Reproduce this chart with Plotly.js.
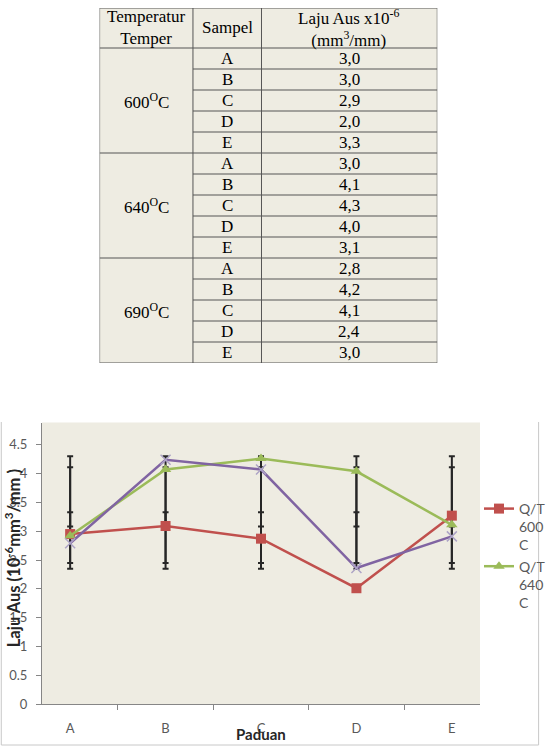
<!DOCTYPE html>
<html><head><meta charset="utf-8">
<script src="https://cdn.plot.ly/plotly-3.0.1.min.js"></script>
<style>html,body{margin:0;padding:0;background:#fff;}#chart{width:551px;height:746px;}</style>
</head><body><div id="chart"></div>
<script>
// ---------- chart data ----------
const categories = ['A', 'B', 'C', 'D', 'E'];
const qt600 = [2.95, 3.09, 2.87, 2.01, 3.27];
const qt640 = [2.92, 4.07, 4.26, 4.04, 3.11];
const qt690 = [2.79, 4.24, 4.07, 2.36, 2.91];
const seriesNames = ['Q/T<br>600<br>C', 'Q/T<br>640<br>C', 'Q/T<br>690<br>C'];
// standard-deviation error bars (Excel style: centred on each series mean)
const errMid = [2.84, 3.69, 3.28];
const errSd = [0.49, 0.61, 0.83];

// ---------- table data ----------
const tableHeader = ['Temperatur<br>Temper', 'Sampel', 'Laju Aus x10<sup>-6</sup><br>(mm<sup>3</sup>/mm)'];
const tableTemps = ['600<sup>O</sup>C', '640<sup>O</sup>C', '690<sup>O</sup>C'];
const tableSamples = ['A', 'B', 'C', 'D', 'E'];
const tableRates = [
  ['3,0', '3,0', '2,9', '2,0', '3,3'],
  ['3,0', '4,1', '4,3', '4,0', '3,1'],
  ['2,8', '4,2', '4,1', '2,4', '3,0']
];

// ---------- styles ----------
const W = 551, H = 746;
const M = {l: 42, r: 68, t: 0, b: 42};
const plotH = H - M.t - M.b, plotW = W - M.l - M.r;
const px2x = p => (p - M.l) / plotW;
const px2y = p => (H - M.b - p) / plotH;
const colors = ['#C0504D', '#9BBB59', '#8064A2'];
const sansFont = 'Lato, "Open Sans", sans-serif';
const serifFont = '"Liberation Serif", "DejaVu Serif", serif';
const tableFontSize = 17;

// table geometry (in table-axis units = px)
const colEdges = [0, 94, 163, 340];
const headerH = 40, rowH = 21;
const nRows = tableTemps.length * tableSamples.length;
const tableH = headerH + nRows * rowH;
const tableTop = 8, tableLeft = 100;

const traces = [];
// error bar traces
const valsAll = [qt600, qt640, qt690];
for (let i = 0; i < 3; i++) {
  traces.push({
    type: 'scatter', mode: 'markers', x: categories,
    y: categories.map(() => errMid[i]),
    marker: {size: 1, color: 'rgba(0,0,0,0)'},
    error_y: {type: 'constant', value: errSd[i], color: '#262626', thickness: 2, width: 3},
    showlegend: false, hoverinfo: 'skip', xaxis: 'x', yaxis: 'y'
  });
}
const symbols = ['square', 'triangle-up', 'x-thin-open'];
for (let i = 0; i < 3; i++) {
  traces.push({
    type: 'scatter', mode: 'lines+markers', name: seriesNames[i],
    x: categories, y: valsAll[i],
    line: {color: colors[i], width: 2.5},
    marker: i === 2
      ? {symbol: 'x-thin-open', size: 10, color: '#ADA4C6', line: {color: '#ADA4C6', width: 1.5}}
      : {symbol: symbols[i], size: 10, color: colors[i]},
    showlegend: i < 2, xaxis: 'x', yaxis: 'y'
  });
}

// ---------- table via shapes & annotations on a second axis pair ----------
const shapes = [];
const annotations = [];
const lineStyle = {color: '#555555', width: 1};
function hline(y, x0, x1) {
  shapes.push({type: 'line', xref: 'x2', yref: 'y2', x0: x0, x1: x1, y0: y, y1: y, line: lineStyle});
}
function vline(x, y0, y1) {
  shapes.push({type: 'line', xref: 'x2', yref: 'y2', x0: x, x1: x, y0: y0, y1: y1, line: lineStyle});
}
hline(0, colEdges[0], colEdges[3]);
hline(headerH, colEdges[0], colEdges[3]);
for (let r = 1; r <= nRows; r++) {
  const y = headerH + r * rowH;
  const groupEnd = r % tableSamples.length === 0;
  hline(y, groupEnd ? colEdges[0] : colEdges[1], colEdges[3]);
}
colEdges.forEach(x => vline(x, 0, tableH));
const tFont = {family: serifFont, size: tableFontSize, color: '#000'};
tableHeader.forEach((t, c) => {
  annotations.push({xref: 'x2', yref: 'y2', x: (colEdges[c] + colEdges[c + 1]) / 2, y: headerH / 2,
    text: t, showarrow: false, font: tFont, xanchor: 'center', yanchor: 'middle'});
});
tableTemps.forEach((t, g) => {
  const y0 = headerH + g * tableSamples.length * rowH;
  annotations.push({xref: 'x2', yref: 'y2', x: (colEdges[0] + colEdges[1]) / 2,
    y: y0 + tableSamples.length * rowH / 2, text: t, showarrow: false,
    font: tFont, xanchor: 'center', yanchor: 'middle'});
  tableSamples.forEach((s, k) => {
    const yc = y0 + (k + 0.5) * rowH;
    annotations.push({xref: 'x2', yref: 'y2', x: (colEdges[1] + colEdges[2]) / 2, y: yc, text: s,
      showarrow: false, font: tFont, xanchor: 'center', yanchor: 'middle'});
    annotations.push({xref: 'x2', yref: 'y2', x: (colEdges[2] + colEdges[3]) / 2, y: yc, text: tableRates[g][k],
      showarrow: false, font: tFont, xanchor: 'center', yanchor: 'middle'});
  });
});

// chart outer frame (left, bottom, right)
const frameTop = 422, frameBottom = 745, frameLeft = 1, frameRight = 542;
shapes.push({type: 'path', xref: 'paper', yref: 'paper', layer: 'below',
  path: `M ${px2x(frameLeft)} ${px2y(frameTop)} L ${px2x(frameLeft)} ${px2y(frameBottom)} L ${px2x(frameRight)} ${px2y(frameBottom)} L ${px2x(frameRight)} ${px2y(frameTop)}`,
  line: {color: '#C8C8C8', width: 1}});

// axis titles
annotations.push({xref: 'paper', yref: 'paper', x: px2x(13), y: px2y(558), textangle: -90,
  text: '<b>Laju Aus (10<sup>-6</sup>mm<sup>3</sup>/mm )</b>', showarrow: false,
  font: {family: sansFont, size: 16.5, color: '#262626'}, xanchor: 'center', yanchor: 'middle'});
annotations.push({xref: 'paper', yref: 'paper', x: 0.5, y: px2y(734),
  text: '<b>Paduan</b>', showarrow: false,
  font: {family: sansFont, size: 15, color: '#262626'}, xanchor: 'center', yanchor: 'middle'});

const plotTopPx = 422.5;
const layout = {
  width: W, height: H, margin: M,
  paper_bgcolor: '#ffffff', plot_bgcolor: '#EEECE2',
  showlegend: true,
  xaxis: {
    type: 'category', categoryarray: categories, domain: [0, 1], anchor: 'y',
    tickson: 'boundaries', ticks: 'outside', ticklen: 5, tickcolor: '#868686',
    showline: true, linecolor: '#868686', linewidth: 1, showgrid: false, zeroline: false,
    tickfont: {family: sansFont, size: 13, color: '#595959'}, ticklabelstandoff: 12
  },
  yaxis: {
    domain: [0, px2y(plotTopPx)], anchor: 'x', range: [0, 4.887], tick0: 0, dtick: 0.5,
    ticks: 'outside', ticklen: 5, tickcolor: '#868686',
    showline: true, linecolor: '#868686', linewidth: 1, showgrid: false, zeroline: false,
    tickfont: {family: sansFont, size: 13, color: '#595959'}, ticklabelstandoff: 6
  },
  xaxis2: {domain: [px2x(tableLeft), px2x(tableLeft + colEdges[3])], range: [0, colEdges[3]],
    anchor: 'y2', visible: false, fixedrange: true},
  yaxis2: {domain: [px2y(tableTop + tableH), px2y(tableTop)], range: [tableH, 0],
    anchor: 'x2', visible: false, fixedrange: true},
  legend: {x: px2x(482), xanchor: 'left', y: px2y(493), yanchor: 'top',
    font: {family: sansFont, size: 14, color: '#595959'}, valign: 'top',
    itemwidth: 30, tracegroupgap: 0, bgcolor: 'rgba(0,0,0,0)'},
  shapes: shapes, annotations: annotations
};
// invisible trace to anchor the table axes
traces.push({type: 'scatter', x: [0], y: [0], xaxis: 'x2', yaxis: 'y2', mode: 'markers',
  marker: {opacity: 0}, showlegend: false, hoverinfo: 'skip'});

Plotly.newPlot('chart', traces, layout, {staticPlot: true});
</script></body></html>
